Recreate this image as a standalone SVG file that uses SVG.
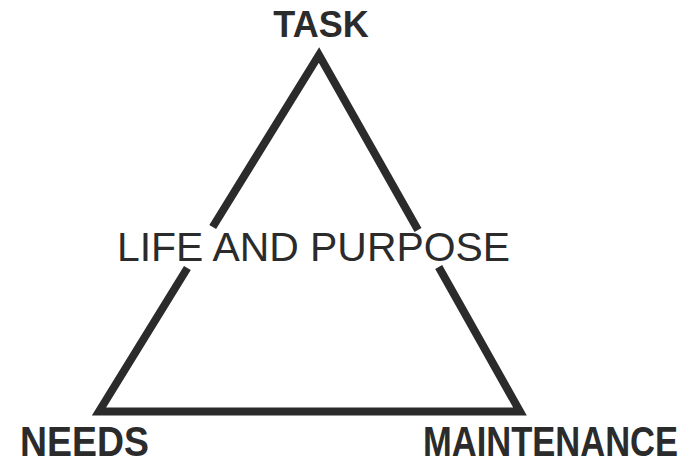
<svg xmlns="http://www.w3.org/2000/svg" width="695" height="464" viewBox="0 0 695 464">
  <style>
    .edge { fill: none; stroke: #2b2b2b; stroke-width: 8; stroke-linejoin: miter; stroke-miterlimit: 10; stroke-linecap: butt; }
    .corner { font-family: "Liberation Sans", Arial, sans-serif; font-weight: bold; font-size: 42px; fill: #2b2b2b; }
    .center { font-family: "Liberation Sans", Arial, sans-serif; font-weight: normal; fill: #2b2b2b; }
  </style>
  <rect width="695" height="464" fill="#ffffff"/>
  <g id="connectors">
    <!-- triangle, left and right sides broken where the middle label crosses -->
    <path class="edge" d="M 187.4 268 L 99 411.5 L 520 411.5 L 438.7 267 M 212.7 227 L 319 55 L 418 230"/>
  </g>
  <g id="task">
    <text class="corner" x="321" y="37" style="font-size:36px" text-anchor="middle">TASK</text>
  </g>
  <g id="needs">
    <!-- condensed bold lettering -->
    <text class="corner" transform="translate(20 455.5) scale(0.891 1)" x="0" y="0">NEEDS</text>
  </g>
  <g id="maintenance">
    <text class="corner" transform="translate(423 455.5) scale(0.822 1)" x="0" y="0">MAINTENANCE</text>
  </g>
  <g id="life-and-purpose">
    <text class="center" x="117" y="261" font-size="40.5" textLength="393" lengthAdjust="spacingAndGlyphs">LIFE AND PURPOSE</text>
  </g>
</svg>
